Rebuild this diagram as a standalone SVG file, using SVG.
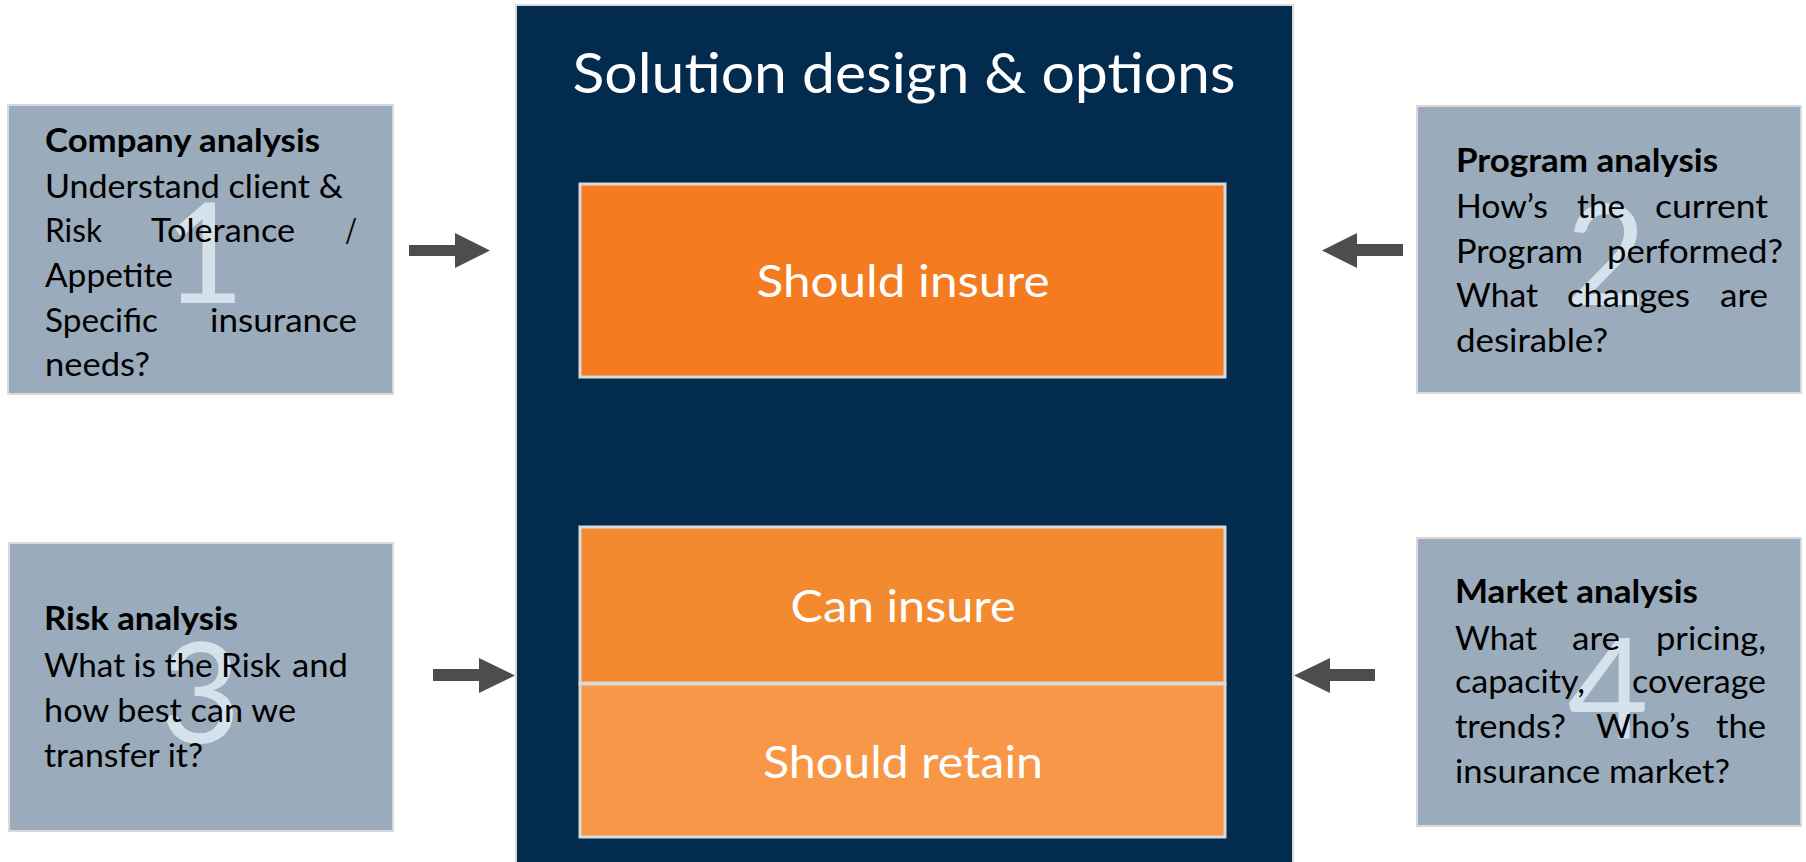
<svg xmlns="http://www.w3.org/2000/svg" width="1806" height="862" viewBox="0 0 1806 862">
<style>
.side{fill:#9aabbb;stroke:#d9d9d9;stroke-width:2}
.num{font-family:Lato,"Open Sans",sans-serif;font-size:140px;fill:#d5e1eb;text-anchor:middle}
.t{font-family:Lato,"Open Sans",sans-serif;font-size:33px;fill:#000}
.b{font-weight:bold}
.lbl{font-family:Lato,"Open Sans",sans-serif;font-size:45px;fill:#fff;text-anchor:middle}
.ttl{font-family:Lato,"Open Sans",sans-serif;font-size:56px;fill:#fff;text-anchor:middle}
.ob{stroke:#d9d9d9;stroke-width:3}
.arr{fill:#4d4d4d}
</style>
<rect width="1806" height="862" fill="#fff"/>
<g id="center">
<rect x="516" y="5" width="777" height="870" fill="#022b4e" stroke="#d9d9d9" stroke-width="2"/>
<text class="ttl" x="904" y="93" textLength="663" lengthAdjust="spacingAndGlyphs">Solution design &amp; options</text>
</g>
<g id="should-insure">
<rect class="ob" x="580" y="184" width="645" height="193" fill="#f47b1f"/>
<text class="lbl" x="903" y="297" textLength="293" lengthAdjust="spacingAndGlyphs">Should insure</text>
</g>
<g id="can-insure">
<rect class="ob" x="580" y="527" width="645" height="156" fill="#f48a30"/>
<text class="lbl" x="903" y="622" textLength="225" lengthAdjust="spacingAndGlyphs">Can insure</text>
</g>
<g id="should-retain">
<rect class="ob" x="580" y="684" width="645" height="153" fill="#f79747"/>
<text class="lbl" x="903" y="778" textLength="280" lengthAdjust="spacingAndGlyphs">Should retain</text>
</g>
<g id="company-analysis">
<rect class="side" x="8" y="105" width="385" height="289"/>
<text class="num" x="204" y="303">1</text>
<text class="t b" x="45" y="152" textLength="275" lengthAdjust="spacingAndGlyphs">Company analysis</text>
<text class="t" x="45" y="198" textLength="298" lengthAdjust="spacingAndGlyphs">Understand client &amp;</text>
<text class="t" x="45" y="242" textLength="57" lengthAdjust="spacingAndGlyphs">Risk</text>
<text class="t" x="151" y="242" textLength="144" lengthAdjust="spacingAndGlyphs">Tolerance</text>
<text class="t" x="345" y="242" textLength="12" lengthAdjust="spacingAndGlyphs">/</text>
<text class="t" x="45" y="287" textLength="128" lengthAdjust="spacingAndGlyphs">Appetite</text>
<text class="t" x="45" y="332" textLength="113" lengthAdjust="spacingAndGlyphs">Specific</text>
<text class="t" x="210" y="332" textLength="147" lengthAdjust="spacingAndGlyphs">insurance</text>
<text class="t" x="45" y="376" textLength="105" lengthAdjust="spacingAndGlyphs">needs?</text>
</g>
<g id="program-analysis">
<rect class="side" x="1417" y="106" width="384" height="287"/>
<text class="num" x="1606" y="305">2</text>
<text class="t b" x="1456" y="172" textLength="262" lengthAdjust="spacingAndGlyphs">Program analysis</text>
<text class="t" x="1456" y="218" textLength="92" lengthAdjust="spacingAndGlyphs">How’s</text>
<text class="t" x="1577" y="218" textLength="48" lengthAdjust="spacingAndGlyphs">the</text>
<text class="t" x="1655" y="218" textLength="113" lengthAdjust="spacingAndGlyphs">current</text>
<text class="t" x="1456" y="263" textLength="127" lengthAdjust="spacingAndGlyphs">Program</text>
<text class="t" x="1607" y="263" textLength="176" lengthAdjust="spacingAndGlyphs">performed?</text>
<text class="t" x="1456" y="307" textLength="82" lengthAdjust="spacingAndGlyphs">What</text>
<text class="t" x="1567" y="307" textLength="123" lengthAdjust="spacingAndGlyphs">changes</text>
<text class="t" x="1720" y="307" textLength="48" lengthAdjust="spacingAndGlyphs">are</text>
<text class="t" x="1456" y="352" textLength="152" lengthAdjust="spacingAndGlyphs">desirable?</text>
</g>
<g id="risk-analysis">
<rect class="side" x="9" y="543" width="384" height="288"/>
<text class="num" x="200" y="743">3</text>
<text class="t b" x="44" y="630" textLength="194" lengthAdjust="spacingAndGlyphs">Risk analysis</text>
<text class="t" x="44" y="677" textLength="237" lengthAdjust="spacingAndGlyphs">What is the Risk</text>
<text class="t" x="292" y="677" textLength="56" lengthAdjust="spacingAndGlyphs">and</text>
<text class="t" x="44" y="722" textLength="252" lengthAdjust="spacingAndGlyphs">how best can we</text>
<text class="t" x="44" y="767" textLength="159" lengthAdjust="spacingAndGlyphs">transfer it?</text>
</g>
<g id="market-analysis">
<rect class="side" x="1417" y="538" width="384" height="288"/>
<text class="num" x="1608" y="738">4</text>
<text class="t b" x="1455" y="603" textLength="243" lengthAdjust="spacingAndGlyphs">Market analysis</text>
<text class="t" x="1455" y="650" textLength="82" lengthAdjust="spacingAndGlyphs">What</text>
<text class="t" x="1572" y="650" textLength="48" lengthAdjust="spacingAndGlyphs">are</text>
<text class="t" x="1656" y="650" textLength="110" lengthAdjust="spacingAndGlyphs">pricing,</text>
<text class="t" x="1455" y="693" textLength="130" lengthAdjust="spacingAndGlyphs">capacity,</text>
<text class="t" x="1632" y="693" textLength="134" lengthAdjust="spacingAndGlyphs">coverage</text>
<text class="t" x="1455" y="738" textLength="111" lengthAdjust="spacingAndGlyphs">trends?</text>
<text class="t" x="1596" y="738" textLength="94" lengthAdjust="spacingAndGlyphs">Who’s</text>
<text class="t" x="1716" y="738" textLength="50" lengthAdjust="spacingAndGlyphs">the</text>
<text class="t" x="1455" y="783" textLength="275" lengthAdjust="spacingAndGlyphs">insurance market?</text>
</g>
<g id="connectors">
<polygon class="arr" points="409,245 455,245 455,233 490,250.5 455,268 455,256 409,256"/>
<polygon class="arr" points="1403,244 1357,244 1357,233 1322,250.5 1357,268 1357,256 1403,256"/>
<polygon class="arr" points="433,669 479,669 479,658 515,675.5 479,693 479,681 433,681"/>
<polygon class="arr" points="1375,669 1330,669 1330,658 1294,675.5 1330,693 1330,681 1375,681"/>
</g>
</svg>
